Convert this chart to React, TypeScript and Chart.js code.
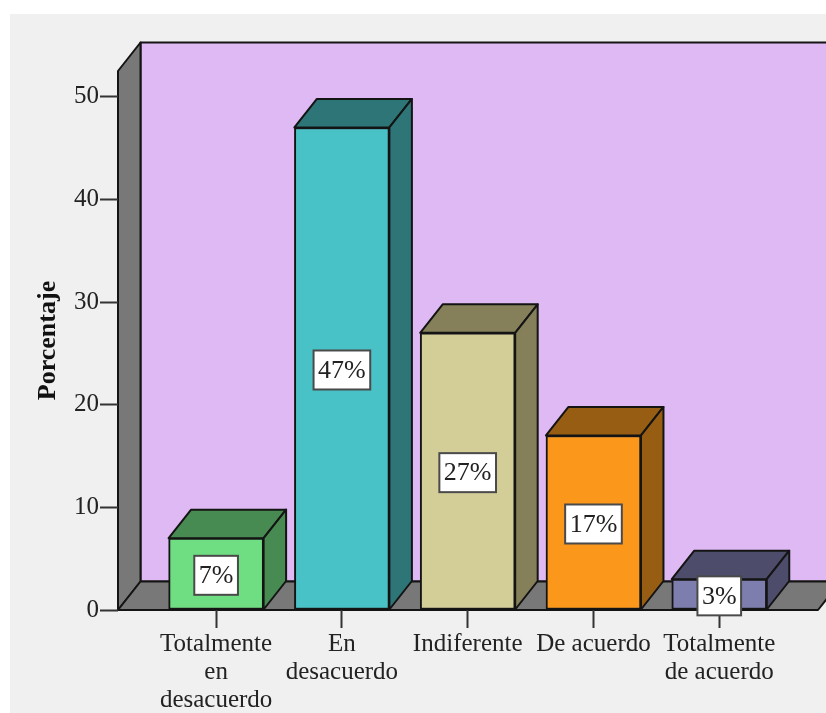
import React, { useEffect, useRef } from "react";
import { Chart, registerables } from "chart.js";

Chart.register(...registerables);

// Survey answers, in percent
const categoryLines: string[][] = [
  ["Totalmente", "en", "desacuerdo"],
  ["En", "desacuerdo"],
  ["Indiferente"],
  ["De acuerdo"],
  ["Totalmente", "de acuerdo"],
];
const percentages: number[] = [7, 47, 27, 17, 3];
const percentLabels: string[] = ["7%", "47%", "27%", "17%", "3%"];
const frontColors: string[] = ["#6fdd82", "#48c2c6", "#d3cd98", "#fb981b", "#7d7dae"];
const sideColors: string[] = ["#478a52", "#2e7578", "#858059", "#975d13", "#4d4d6b"];

const FONT = '"Liberation Serif", serif';
const INK = "#222222";
const EDGE = "#141414";
const DEPTH_X = 22.5;
const DEPTH_Y = 28.5;

function polygon(ctx: CanvasRenderingContext2D, pts: number[][], fill: string) {
  ctx.beginPath();
  pts.forEach(([x, y], i) => (i ? ctx.lineTo(x, y) : ctx.moveTo(x, y)));
  ctx.closePath();
  ctx.fillStyle = fill;
  ctx.fill();
  ctx.lineWidth = 2;
  ctx.lineJoin = "round";
  ctx.strokeStyle = EDGE;
  ctx.stroke();
}

// Panel background, then the back wall, side wall and floor of the box
const boxPlugin = {
  id: "box3d",
  beforeDraw(chart: any) {
    const { ctx, width, height, chartArea: a } = chart;
    ctx.save();
    ctx.fillStyle = "#ffffff";
    ctx.fillRect(0, 0, width, height);
    ctx.fillStyle = "#f0f0f0";
    ctx.fillRect(10, 14, width - 10, height - 14);
    const bx = DEPTH_X;
    const by = DEPTH_Y;
    polygon(ctx, [[a.left + bx, a.top - by], [a.right + bx, a.top - by], [a.right + bx, a.bottom - by], [a.left + bx, a.bottom - by]], "#deb9f3");
    polygon(ctx, [[a.left, a.top], [a.left + bx, a.top - by], [a.left + bx, a.bottom - by], [a.left, a.bottom]], "#787878");
    polygon(ctx, [[a.left, a.bottom], [a.left + bx, a.bottom - by], [a.right + bx, a.bottom - by], [a.right, a.bottom]], "#787878");
    ctx.restore();
  },
  // Top and right faces of each bar, behind its front face
  beforeDatasetsDraw(chart: any) {
    const { ctx } = chart;
    const bars = chart.getDatasetMeta(0).data;
    ctx.save();
    bars.forEach((bar: any, i: number) => {
      const { x, y, base, width } = bar.getProps(["x", "y", "base", "width"], true);
      const l = x - width / 2;
      const r = x + width / 2;
      polygon(ctx, [[l, y], [l + DEPTH_X, y - DEPTH_Y], [r + DEPTH_X, y - DEPTH_Y], [r, y]], sideColors[i]);
      polygon(ctx, [[r, y], [r + DEPTH_X, y - DEPTH_Y], [r + DEPTH_X, base - DEPTH_Y], [r, base]], sideColors[i]);
    });
    ctx.restore();
  },
  // White value tag centred on each front face
  afterDatasetsDraw(chart: any) {
    const { ctx } = chart;
    const bars = chart.getDatasetMeta(0).data;
    ctx.save();
    ctx.font = `26px ${FONT}`;
    ctx.textAlign = "center";
    ctx.textBaseline = "middle";
    bars.forEach((bar: any, i: number) => {
      const { x, y, base } = bar.getProps(["x", "y", "base"], true);
      const cy = (y + base) / 2 + 1.5;
      const w = ctx.measureText(percentLabels[i]).width + 9;
      const h = 39;
      ctx.fillStyle = "#ffffff";
      ctx.fillRect(x - w / 2, cy - h / 2, w, h);
      ctx.lineWidth = 2;
      ctx.strokeStyle = "#4a4a4a";
      ctx.strokeRect(x - w / 2, cy - h / 2, w, h);
      ctx.fillStyle = INK;
      ctx.fillText(percentLabels[i], x, cy + 1);
    });
    ctx.restore();
  },
};

export default function App() {
  const ref = useRef<HTMLCanvasElement>(null);

  useEffect(() => {
    const chart = new Chart(ref.current!, {
      type: "bar",
      data: {
        datasets: [
          {
            data: percentages.map((y, x) => ({ x, y })),
            backgroundColor: frontColors,
            borderColor: EDGE,
            borderWidth: 2,
            borderSkipped: false,
            barThickness: 95,
            clip: false,
          } as any,
        ],
      },
      options: {
        responsive: false,
        animation: false,
        layout: { padding: { top: 71, right: 8, left: 0, bottom: 0 } },
        plugins: { legend: { display: false }, tooltip: { enabled: false } },
        scales: {
          x: {
            type: "linear",
            offset: false,
            min: -0.78,
            max: 4.785,
            afterBuildTicks: (s: any) => {
              s.ticks = categoryLines.map((_, value) => ({ value }));
            },
            afterFit: (s: any) => {
              s.height = 103;
            },
            grid: { offset: false, drawOnChartArea: false, tickLength: 18, tickColor: "#333333", tickWidth: 2 },
            border: { display: false },
            ticks: {
              autoSkip: false,
              maxRotation: 0,
              padding: 3,
              color: INK,
              font: { family: FONT, size: 25, lineHeight: 1.11 },
              callback: (v: any) => categoryLines[v as number],
            },
          },
          y: {
            min: 0,
            max: 52.5,
            afterFit: (s: any) => {
              s.width = 118;
            },
            grid: { drawOnChartArea: false, tickLength: 18, tickColor: "#333333", tickWidth: 2 },
            border: { display: false },
            ticks: {
              stepSize: 10,
              includeBounds: false,
              padding: 1,
              color: INK,
              font: { family: FONT, size: 25 },
            },
            title: {
              display: true,
              text: "Porcentaje",
              color: "#111111",
              font: { family: FONT, size: 26, weight: "bold" },
              padding: { top: 33, bottom: 0 },
            },
          },
        } as any,
      },
      plugins: [boxPlugin],
    });
    return () => chart.destroy();
  }, []);

  return (
    <div style={{ position: "absolute", left: 0, top: 0, width: 826, height: 713, overflow: "hidden" }}>
      <canvas ref={ref} width={826} height={713} style={{ display: "block" }} />
    </div>
  );
}
